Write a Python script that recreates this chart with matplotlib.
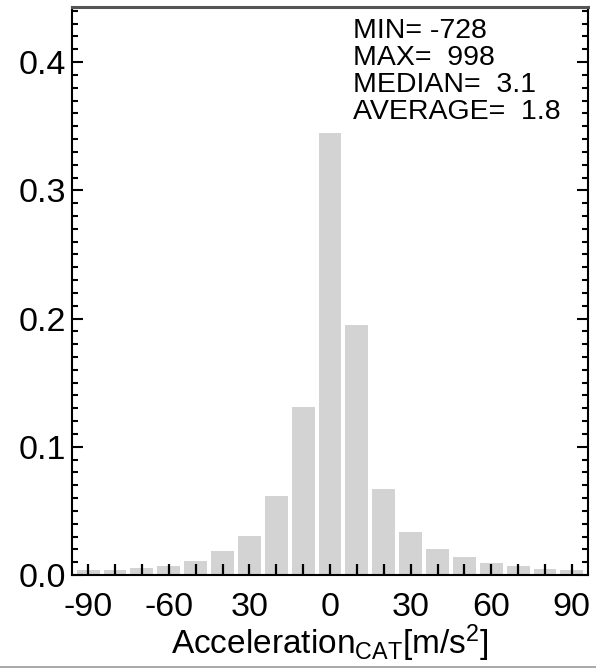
import numpy as np
import matplotlib
matplotlib.use('Agg')
import matplotlib.pyplot as plt
from matplotlib.lines import Line2D
from matplotlib.ticker import MultipleLocator

plt.rcParams['font.family'] = ['Liberation Sans', 'DejaVu Sans']
plt.rcParams['mathtext.fontset'] = 'custom'
plt.rcParams['mathtext.rm'] = 'Liberation Sans'
plt.rcParams['mathtext.it'] = 'Liberation Sans'

# bin centres and relative frequencies
bin_centers = [-90, -80, -70, -60, -50, -40, -30, -20, -10, 0,
               10, 20, 30, 40, 50, 60, 70, 80, 90]
freq = [0.004, 0.004, 0.0056, 0.0072, 0.0108, 0.0184, 0.0303, 0.0613, 0.131, 0.345,
        0.195, 0.0668, 0.0334, 0.0205, 0.0139, 0.0095, 0.0069, 0.0043, 0.004]

xtick_pos = [-90, -60, -30, 0, 30, 60, 90]
xtick_lab = ['-90', '-60', '30', '0', '30', '60', '90']

stat_lines = ['MIN= -728', 'MAX=  998', 'MEDIAN=  3.1', 'AVERAGE=  1.8']

fig = plt.figure(figsize=(5.96, 6.69), dpi=100)
ax = fig.add_axes([72/596, 94/669, 516/596, 568/669])

ax.bar(bin_centers, freq, width=8.5, color='#d3d3d3', edgecolor='none', zorder=1)

ax.set_xlim(-96, 96)
ax.set_ylim(0, 0.443)

# x: a tick at every bin, labels every third bin
ax.set_xticks(bin_centers)
ax.set_xticklabels([xtick_lab[xtick_pos.index(c)] if c in xtick_pos else '' for c in bin_centers])
ax.tick_params(axis='x', direction='in', length=8, width=1.6, labelsize=24.5, pad=12,
               bottom=True, top=False)

ax.yaxis.set_major_locator(MultipleLocator(0.1))
ax.yaxis.set_minor_locator(MultipleLocator(0.01))
ax.yaxis.set_major_formatter(matplotlib.ticker.FormatStrFormatter('%.1f'))
ax.tick_params(axis='y', which='major', direction='in', length=8, width=1.5,
               labelsize=24.5, pad=4, left=True, right=True)
ax.tick_params(axis='y', which='minor', direction='in', length=4.5, width=1.5,
               left=True, right=True)

for s in ['left', 'right', 'bottom']:
    ax.spines[s].set_linewidth(1.5)
    ax.spines[s].set_color('black')
ax.spines['top'].set_linewidth(2.2)
ax.spines['top'].set_color('#555555')

ax.set_xlabel(r'Acceleration$_{\mathrm{CAT}}$[m/s$^{2}$]', fontsize=24, labelpad=0)

y0 = 0.9454
for i, line in enumerate(stat_lines):
    ax.text(0.5446, y0 - i * 0.0477, line, transform=ax.transAxes,
            fontsize=20.5, ha='left', va='baseline')

# thin grey rule at the bottom of the screenshot
fig.add_artist(Line2D([0, 1], [2/669, 2/669], transform=fig.transFigure,
                      color='#999999', linewidth=1.2))

fig.savefig('out.png', dpi=100)
